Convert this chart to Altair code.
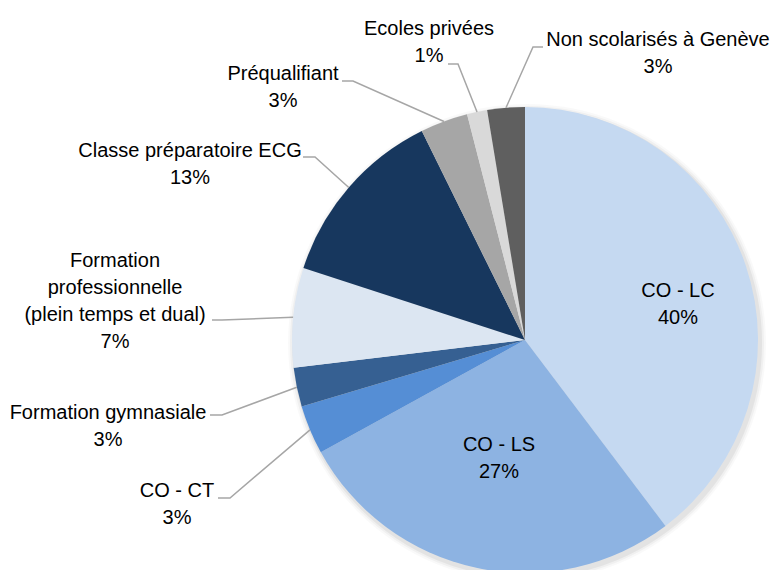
import altair as alt
import pandas as pd
import math

# ---------------- data ----------------
categories = [
    "CO - LC", "CO - LS", "CO - CT", "Formation gymnasiale",
    "Formation\nprofessionnelle\n(plein temps et dual)",
    "Classe préparatoire ECG", "Préqualifiant", "Ecoles privées",
    "Non scolarisés à Genève",
]
values = [39.7, 27.3, 3.4, 2.7, 6.9, 12.7, 3.3, 1.4, 2.6]
colors = ["#C5D9F1", "#8DB3E2", "#558ED5", "#366092", "#DCE6F2",
          "#17375E", "#A6A6A6", "#D9D9D9", "#5F5F5F"]

# ---------------- layout (pixels, page coordinates) ----------------
OFF = 8                      # page margin
CX, CY, R = 525, 340, 233    # pie centre / radius
FONT = "Liberation Sans Narrow, Arial Narrow, Liberation Sans, sans-serif"
FS, LH = 20, 27
# label anchor: (centre x, first baseline y); leader: list of points from label side
label_pos = {
    0: (678, 297, None),
    1: (499, 451, None),
    2: (177, 497, [(218, 498), (230, 498)]),
    3: (108, 419, [(210, 415), (222, 415)]),
    4: (115, 267, [(212, 320), (222, 320)]),
    5: (190, 157, [(303, 157), (315, 157)]),
    6: (283, 80, [(342, 81), (353, 81)]),
    7: (429, 35, [(448, 64), (458, 64)]),
    8: (658, 46, [(543, 47), (533, 47)]),
}

total = sum(values)
df = pd.DataFrame({"name": categories, "value": values,
                   "order": list(range(len(values)))})

# text labels
rows = []
for i, (c, v) in enumerate(zip(categories, values)):
    x, y, _ = label_pos[i]
    rows.append({"txt": f"{c}\n{round(v)}%", "px": x - OFF, "py": y - OFF})
tdf = pd.DataFrame(rows)

# leader lines: from label to slice edge at mid-angle
lrows = []
cum = 0.0
for i, v in enumerate(values):
    mid = (cum + v / 2) / total * 2 * math.pi
    cum += v
    pts = label_pos[i][2]
    if pts is None:
        continue
    ex = CX + R * math.sin(mid)
    ey = CY - R * math.cos(mid)
    allp = pts + [(ex, ey)]
    for s, (px, py) in enumerate(allp):
        lrows.append({"lab": str(i), "seq": s, "px": px - OFF, "py": py - OFF})
ldf = pd.DataFrame(lrows)

W, H = 766, 562

# soft shadow
shadows = []
for k, op in [(6, 0.025), (4, 0.035), (2, 0.05)]:
    shadows.append(
        alt.Chart(pd.DataFrame({"k": [0]})).mark_arc(
            theta=0, theta2=2 * math.pi, radius=R + k, color="#000000", opacity=op
        ).encode(x=alt.value(CX - OFF + 2), y=alt.value(CY - OFF + 3))
    )

pie = alt.Chart(df).mark_arc(radius=R, stroke=None).encode(
    theta=alt.Theta("value:Q", stack=True),
    order=alt.Order("order:Q"),
    color=alt.Color("name:N", scale=alt.Scale(domain=categories, range=colors),
                    legend=None),
    x=alt.value(CX - OFF),
    y=alt.value(CY - OFF),
)

lines = alt.Chart(ldf).mark_line(color="#A6A6A6", strokeWidth=1.5).encode(
    x=alt.X("px:Q", scale=None, axis=None),
    y=alt.Y("py:Q", scale=None, axis=None),
    detail="lab:N",
    order="seq:Q",
)

texts = alt.Chart(tdf).mark_text(
    font=FONT, fontSize=FS, lineHeight=LH, lineBreak="\n",
    align="center", baseline="alphabetic", color="#000000",
).encode(
    x=alt.X("px:Q", scale=None, axis=None),
    y=alt.Y("py:Q", scale=None, axis=None),
    text="txt:N",
)

chart = alt.layer(*shadows, pie, lines, texts).properties(
    width=W, height=H, autosize="none", padding=0
).configure_view(stroke=None).resolve_scale(x="independent", y="independent")

chart.save("out.html", embed_options={"renderer": "svg", "actions": False})
